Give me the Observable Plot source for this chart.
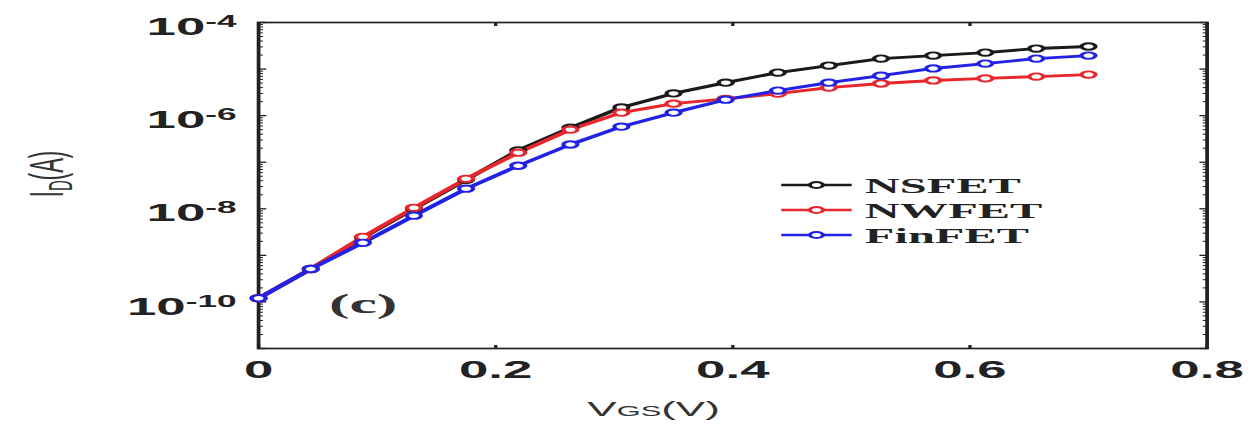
<!DOCTYPE html>
<html><head><meta charset="utf-8">
<script src="https://cdn.jsdelivr.net/npm/d3@7"></script>
<script src="https://cdn.jsdelivr.net/npm/@observablehq/plot@0.6"></script>
<style>
html,body{margin:0;padding:0;background:#fff;}
#chart svg{display:block}
</style></head><body><div id="chart"></div>
<script>
// ---- data ----
const vgs = [0, 0.044, 0.088, 0.131, 0.175, 0.219, 0.263, 0.306, 0.35, 0.394, 0.438, 0.481, 0.525, 0.569, 0.613, 0.656, 0.7];
const nsfet = [1.2e-10, 5.1e-10, 2.4e-9, 1.0e-8, 4.2e-8, 1.8e-7, 5.5e-7, 1.5e-6, 3.0e-6, 5.1e-6, 8.4e-6, 1.19e-5, 1.68e-5, 1.95e-5, 2.26e-5, 2.76e-5, 3.05e-5];
const nwfet = [1.2e-10, 5.1e-10, 2.5e-9, 1.05e-8, 4.4e-8, 1.6e-7, 5.0e-7, 1.16e-6, 1.81e-6, 2.3e-6, 2.97e-6, 4.0e-6, 4.9e-6, 5.7e-6, 6.3e-6, 6.9e-6, 7.6e-6];
const finfet = [1.2e-10, 5.1e-10, 1.86e-9, 7.1e-9, 2.7e-8, 8.4e-8, 2.4e-7, 5.8e-7, 1.16e-6, 2.2e-6, 3.45e-6, 5.1e-6, 7.2e-6, 1.03e-5, 1.31e-5, 1.68e-5, 1.95e-5];
const seriesNames = ["NSFET", "NWFET", "FinFET"];
const seriesColors = ["#1a1a1a", "#e8262b", "#2222e6"];
const xDomain = [0, 0.8];
const xTicks = [0, 0.2, 0.4, 0.6, 0.8];
const xTickLabels = ["0", "0.2", "0.4", "0.6", "0.8"];
const yDomain = [1e-11, 1e-4];
const yLabeled = [1e-10, 1e-8, 1e-6, 1e-4];
const yLabelExps = ["-10", "-8", "-6", "-4"];
const yMajor = [1e-11, 1e-10, 1e-9, 1e-8, 1e-7, 1e-6, 1e-5, 1e-4];
const yMinor = [];
for (const d of yMajor.slice(0, -1)) for (let k = 2; k <= 9; k++) yMinor.push(d * k);
const xTitle = ["V", "GS", "(V)"];
const yTitle = ["I", "D", "(A)"];
const panelTag = "(c)";

// ---- table ----
const seriesValues = [nsfet, nwfet, finfet];
const rows = [];
seriesNames.forEach((s, j) => vgs.forEach((v, i) => rows.push({series: s, vgs: v, id: seriesValues[j][i]})));

// the reference is horizontally stretched; draw in a narrower frame and stretch it
const OUT_W = 1250, H = 427, SX = 2.2;
const W = Math.round(OUT_W / SX);
const ink = "#222";
const tk = {text: null, label: null, fill: "none"};

const plot = Plot.plot({
  width: W, height: H,
  marginLeft: 117, marginRight: 20, marginTop: 22, marginBottom: 79,
  style: {fontFamily: "'Liberation Sans', Arial, sans-serif", fontWeight: "bold", fontSize: "24px", color: ink, background: "white", overflow: "visible"},
  x: {domain: xDomain},
  y: {type: "log", domain: yDomain},
  color: {domain: seriesNames, range: seriesColors},
  marks: [
    Plot.axisX({anchor: "bottom", ticks: xTicks, tickSize: 0, tickPadding: 12, tickFormat: (d, i) => xTickLabels[i], label: null}),
    Plot.axisX({anchor: "bottom", ticks: xTicks, tickSize: -3, strokeWidth: 1.5, ...tk}),
    Plot.axisX({anchor: "top", ticks: xTicks, tickSize: -3, strokeWidth: 1.5, ...tk}),
    Plot.axisY({anchor: "left", ticks: yLabeled, tickSize: 0, tickPadding: 10, tickFormat: () => "10", label: null}),
    Plot.axisY({anchor: "left", ticks: yMajor, tickSize: -4, strokeWidth: 1.3, ...tk}),
    Plot.axisY({anchor: "left", ticks: yMinor, tickSize: -2.5, strokeWidth: 1, ...tk}),
    Plot.axisY({anchor: "right", ticks: yMajor, tickSize: -4, strokeWidth: 1.3, ...tk}),
    Plot.axisY({anchor: "right", ticks: yMinor, tickSize: -2.5, strokeWidth: 1, ...tk}),
    Plot.frame({stroke: ink, strokeWidth: 1.7}),
    Plot.line(rows, {x: "vgs", y: "id", z: "series", stroke: "series", strokeWidth: 2.9}),
    Plot.dot(rows, {x: "vgs", y: "id", stroke: "series", fill: "white", r: 3.2, strokeWidth: 1.9})
  ]
});

const svg = d3.select(plot);
// superscript exponents on y tick labels (set slightly below their ticks, as in the reference)
const yLab = svg.select('g[aria-label="y-axis tick label"]');
yLab.attr("transform", (yLab.attr("transform") || "") + " translate(0,5)");
yLab.selectAll("text").each(function(d, i) {
  const t = d3.select(this);
  t.text("10");
  t.append("tspan").attr("dy", "-0.5em").attr("font-size", "16px").text(yLabelExps[i]);
});

// axis titles
const xt = svg.append("text").attr("x", 297).attr("y", 416).attr("text-anchor", "middle")
  .attr("font-family", "'Liberation Sans', Arial, sans-serif").attr("font-size", 20).attr("font-weight", "normal").attr("fill", "#333");
xt.append("tspan").text(xTitle[0]);
xt.append("tspan").attr("font-size", 14).text(xTitle[1]);
xt.append("tspan").text(xTitle[2]);

const yt = svg.append("text").attr("transform", "translate(21,174) rotate(-90)").attr("text-anchor", "middle").attr("dy", "0.35em")
  .attr("font-family", "'Liberation Sans', Arial, sans-serif").attr("font-size", 22).attr("font-weight", "normal").attr("fill", "#333");
yt.append("tspan").text(yTitle[0]);
yt.append("tspan").attr("font-size", 15).attr("dy", "4").text(yTitle[1]);
yt.append("tspan").attr("dy", "-4").text(yTitle[2]);

// panel tag
svg.append("text").attr("x", 165).attr("y", 303).attr("dy", "0.35em").attr("text-anchor", "middle")
  .attr("font-family", "'Liberation Serif', 'Times New Roman', serif").attr("font-size", 28).attr("font-weight", "bold").attr("fill", "#333")
  .text(panelTag);

// legend
const lg = svg.append("g");
seriesNames.forEach((s, i) => {
  const y = 185 + i * 25;
  lg.append("line").attr("x1", 355).attr("x2", 387).attr("y1", y).attr("y2", y).attr("stroke", seriesColors[i]).attr("stroke-width", 2.6);
  lg.append("circle").attr("cx", 371).attr("cy", y).attr("r", 3).attr("fill", "white").attr("stroke", seriesColors[i]).attr("stroke-width", 1.8);
  lg.append("text").attr("x", 393).attr("y", y).attr("dy", "0.35em").attr("text-anchor", "start")
    .attr("font-family", "'Liberation Serif', 'Times New Roman', serif").attr("font-size", 22).attr("font-weight", "bold").attr("fill", "#222")
    .text(s);
});

plot.setAttribute("width", OUT_W);
plot.setAttribute("height", H);
plot.setAttribute("preserveAspectRatio", "none");
plot.style.width = OUT_W + "px";
plot.style.height = H + "px";
plot.style.maxWidth = "none";
document.getElementById("chart").appendChild(plot);
</script>
</body></html>
